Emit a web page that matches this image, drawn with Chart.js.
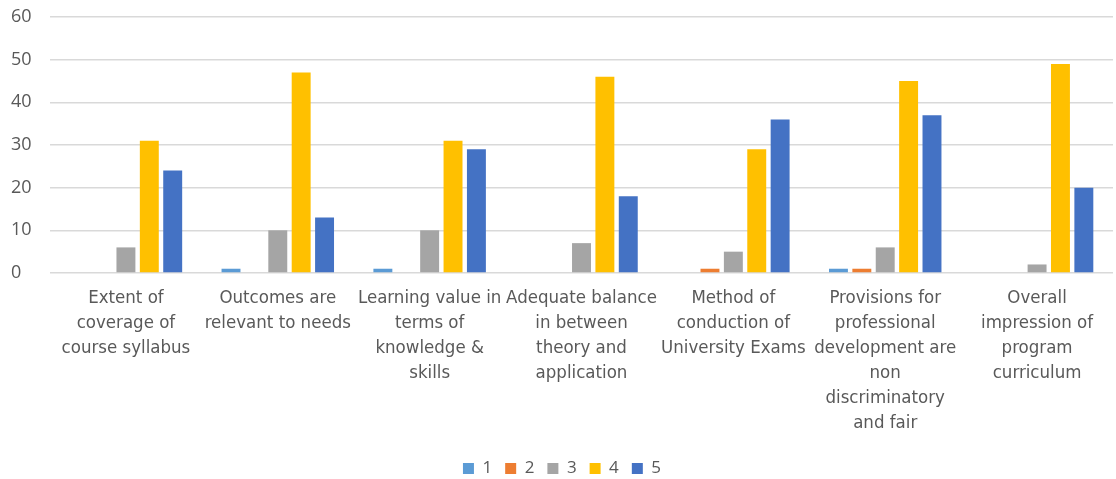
<!DOCTYPE html>
<html lang="en">
  <head>
    <meta charset="UTF-8" />
    <title>Chart</title>
    <script src="https://cdn.jsdelivr.net/npm/chart.js"></script>
    <style>
      html, body { margin: 0; padding: 0; background: #fff; }
      .wrap { position: relative; width: 1116px; height: 479px; }
    </style>
  </head>
  <body>
    <div class="wrap"><canvas id="myChart"></canvas></div>
    <script>
      // categories (wrapped as in the original)
      const categories = [
        ["Extent of", "coverage of", "course syllabus"],
        ["Outcomes are", "relevant to needs"],
        ["Learning value in", "terms of", "knowledge &", "skills"],
        ["Adequate balance", "in between", "theory and", "application"],
        ["Method of", "conduction of", "University Exams"],
        ["Provisions for", "professional", "development are", "non", "discriminatory", "and fair"],
        ["Overall", "impression of", "program", "curriculum"]
      ];
      const rating1 = [0, 1, 1, 0, 0, 1, 0];
      const rating2 = [0, 0, 0, 0, 1, 1, 0];
      const rating3 = [6, 10, 10, 7, 5, 6, 2];
      const rating4 = [31, 47, 31, 46, 29, 45, 49];
      const rating5 = [24, 13, 29, 18, 36, 37, 20];
      const yTicks = [0, 10, 20, 30, 40, 50, 60];

      const series = [
        { label: "1", data: rating1, color: "#5b9bd5" },
        { label: "2", data: rating2, color: "#ed7d31" },
        { label: "3", data: rating3, color: "#a5a5a5" },
        { label: "4", data: rating4, color: "#ffc000" },
        { label: "5", data: rating5, color: "#4472c4" }
      ];

      const ctx = document.getElementById("myChart").getContext("2d");
      new Chart(ctx, {
        type: "bar",
        data: {
          labels: categories,
          datasets: series.map(s => ({
            label: s.label,
            data: s.data,
            backgroundColor: s.color,
            borderWidth: 0,
            categoryPercentage: 0.77,
            barPercentage: 0.81
          }))
        },
        options: {
          responsive: true,
          maintainAspectRatio: false,
          animation: false,
          layout: { padding: { top: 17, right: 3, left: 11, bottom: -8 } },
          plugins: {
            tooltip: { enabled: false },
            legend: {
              position: "bottom",
              labels: {
                boxWidth: 11,
                boxHeight: 11,
                padding: 13,
                color: "#595959",
                font: { family: "'Open Sans', sans-serif", size: 17 }
              }
            }
          },
          scales: {
            x: {
              grid: { display: false, drawTicks: false },
              border: { display: false },
              afterFit: axis => { axis.height = 174; },
              ticks: {
                color: "#595959",
                maxRotation: 0,
                autoSkip: false,
                padding: 13,
                font: { family: "'Liberation Sans Narrow', 'DejaVu Sans Condensed', sans-serif", size: 18.5, lineHeight: 25 / 18.5 }
              }
            },
            y: {
              min: 0,
              max: 60,
              afterBuildTicks: axis => { axis.ticks = yTicks.map(v => ({ value: v })); },
              afterFit: axis => { axis.width = 39; axis.paddingTop = 0; axis.paddingBottom = 0; },
              grid: { color: "#d9d9d9", lineWidth: 1.5, drawTicks: false },
              border: { display: false },
              ticks: {
                color: "#595959",
                crossAlign: "far",
                padding: 14,
                font: { family: "'Open Sans', sans-serif", size: 18 }
              }
            }
          }
        }
      });
    </script>
  </body>
</html>
